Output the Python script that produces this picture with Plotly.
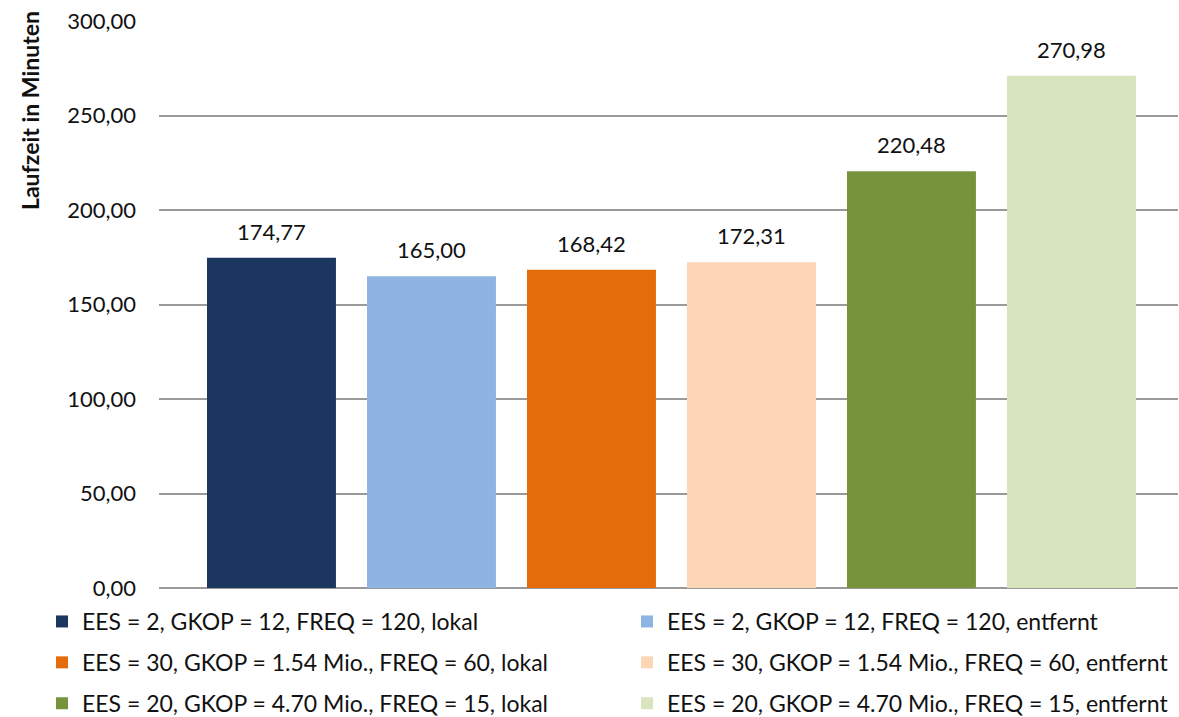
import plotly.graph_objects as go

# Laufzeiten je Konfiguration (Minuten)
series_names = [
    "EES = 2, GKOP = 12, FREQ = 120, lokal",
    "EES = 2, GKOP = 12, FREQ = 120, entfernt",
    "EES = 30, GKOP = 1.54 Mio., FREQ = 60, lokal",
    "EES = 30, GKOP = 1.54 Mio., FREQ = 60, entfernt",
    "EES = 20, GKOP = 4.70 Mio., FREQ = 15, lokal",
    "EES = 20, GKOP = 4.70 Mio., FREQ = 15, entfernt",
]
runtimes = [174.77, 165.00, 168.42, 172.31, 220.48, 270.98]
bar_colors = ["#1B375F", "#8EB4E3", "#E46C0A", "#FCD5B5", "#77933C", "#D7E4BD"]
y_ticks = [0, 50, 100, 150, 200, 250, 300]

FONT = "Lato"
TEXT_COLOR = "#111111"
GRID_COLOR = "#9A9A9A"


def de_number(v):
    return f"{v:.2f}".replace(".", ",")


fig = go.Figure()
annotations = []
for i, (name, value, color) in enumerate(zip(series_names, runtimes, bar_colors)):
    # "lokal" entries go in the left legend column, "entfernt" in the right one
    fig.add_trace(go.Bar(
        x=[name],
        y=[value],
        name=name,
        marker=dict(color=color, line=dict(width=0)),
        legend="legend" if i % 2 == 0 else "legend2",
        legendgroup=f"g{i}",
        hoverinfo="x+y",
    ))
    annotations.append(dict(
        x=name,
        y=value,
        xref="x",
        yref="y",
        text=de_number(value),
        showarrow=False,
        yanchor="bottom",
        yshift=11,
        font=dict(family=FONT, size=22, color=TEXT_COLOR),
    ))

annotations.append(dict(
    text="<b>Laufzeit in Minuten</b>",
    xref="paper",
    yref="paper",
    x=-(159 - 30) / 1019,
    y=1 - (111 - 21) / 567,
    xanchor="center",
    yanchor="middle",
    textangle=-90,
    showarrow=False,
    font=dict(family=FONT, size=23, color=TEXT_COLOR),
))

legend_common = dict(
    orientation="v",
    xref="container",
    yref="container",
    xanchor="left",
    yanchor="top",
    y=1 - 600 / 717,
    tracegroupgap=8,
    font=dict(family=FONT, size=23, color=TEXT_COLOR),
    bgcolor="rgba(0,0,0,0)",
    traceorder="grouped",
)

fig.update_layout(
    width=1179,
    height=717,
    margin=dict(l=159, r=1, t=21, b=129, autoexpand=False),
    paper_bgcolor="white",
    plot_bgcolor="white",
    separators=",.",
    barmode="overlay",
    bargap=0.194,
    font=dict(family=FONT, size=22, color=TEXT_COLOR),
    showlegend=True,
    legend=dict(x=42 / 1179, **legend_common),
    legend2=dict(x=627 / 1179, **legend_common),
    xaxis=dict(
        type="category",
        categoryorder="array",
        categoryarray=series_names,
        range=[-0.703, 5.666],
        showticklabels=False,
        showgrid=False,
        zeroline=False,
        showline=False,
        ticks="",
        fixedrange=True,
    ),
    yaxis=dict(
        range=[0, 300],
        tickvals=y_ticks,
        tickformat=".2f",
        showgrid=True,
        gridcolor=GRID_COLOR,
        gridwidth=2,
        zeroline=True,
        zerolinecolor=GRID_COLOR,
        zerolinewidth=2,
        showline=False,
        ticks="",
        ticklabelstandoff=22,
        tickfont=dict(family=FONT, size=22, color=TEXT_COLOR),
    ),
    annotations=annotations,
)

fig.write_html("out.html")
